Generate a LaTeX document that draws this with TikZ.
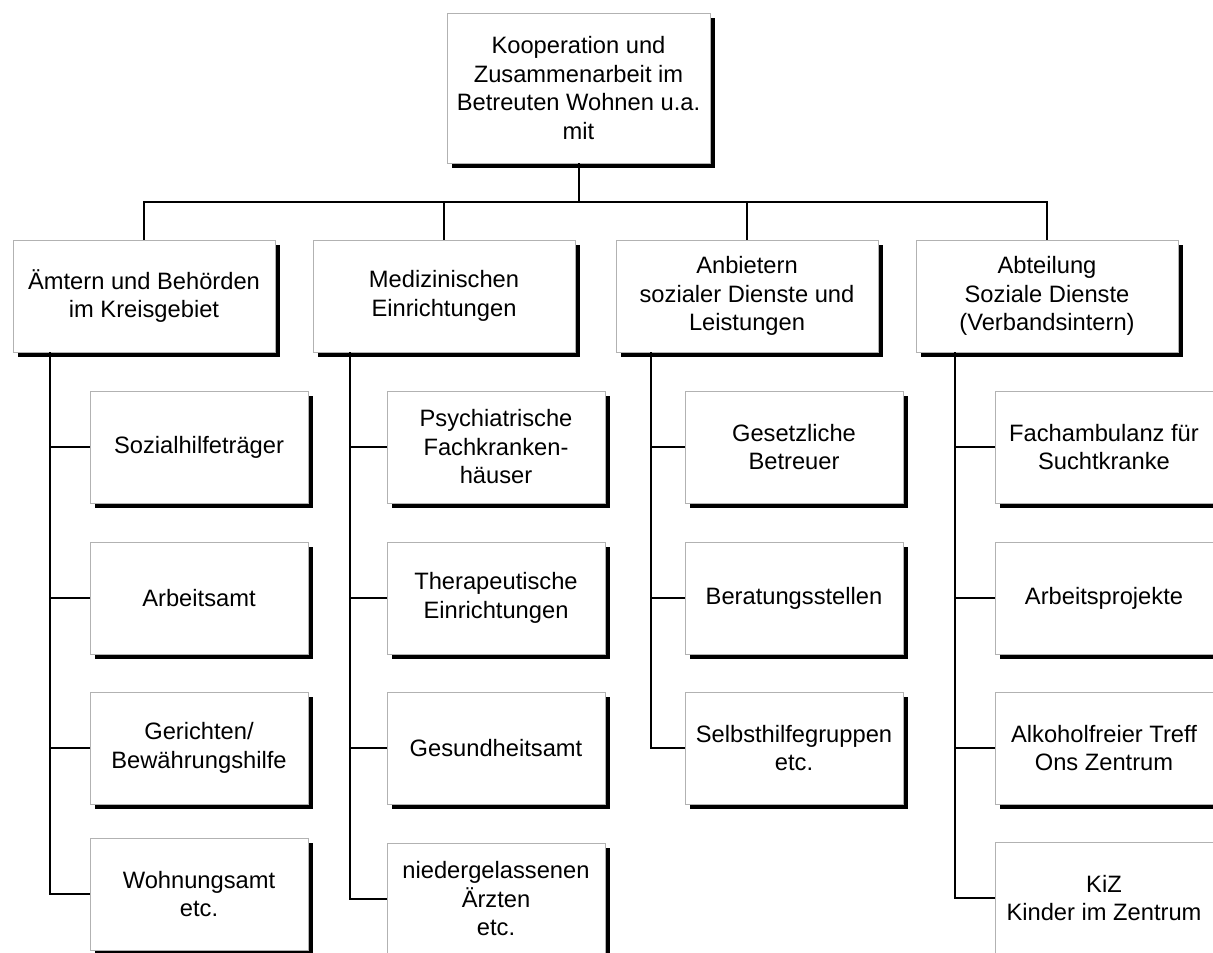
\documentclass[tikz,border=0pt]{standalone}
\usepackage{fontspec}
\setmainfont{Liberation Sans}
\usetikzlibrary{shadows}
\tikzset{
  box/.style={draw=gray!60, line width=0.8pt, fill=white, align=center, inner sep=0pt,
    font=\fontsize{23.7}{28.5}\selectfont,
    drop shadow={fill=black, opacity=1, shadow xshift=4.5pt, shadow yshift=-4.5pt}},
  rootbox/.style={box, minimum width=263pt, minimum height=150pt},
  grp/.style={box, minimum width=262pt, minimum height=112pt},
  leaf/.style={box, minimum width=218pt, minimum height=112pt},
  conn/.style={line width=2pt, black}
}
\begin{document}
\begin{tikzpicture}[x=1pt, y=-1pt]
\useasboundingbox (0,0) rectangle (1213,953);
\clip (0,0) rectangle (1213,953);
% root and groups
\node[rootbox] (root) at (578.5,88) {Kooperation und\\Zusammenarbeit im\\Betreuten Wohnen u.a.\\mit};
\node[grp] (A) at (144,296) {Ämtern und Behörden\\im Kreisgebiet};
\node[grp] (M) at (444,296) {Medizinischen\\Einrichtungen};
\node[grp] (N) at (747,296) {Anbietern\\sozialer Dienste und\\Leistungen};
\node[grp] (S) at (1047,296) {Abteilung\\Soziale Dienste\\(Verbandsintern)};
% children A
\node[leaf] (a1) at (199,447) {Sozialhilfeträger};
\node[leaf] (a2) at (199,598) {Arbeitsamt};
\node[leaf] (a3) at (199,748) {Gerichten/\\Bewährungshilfe};
\node[leaf] (a4) at (199,894) {Wohnungsamt\\etc.};
% children M
\node[leaf] (m1) at (496,447) {Psychiatrische\\Fachkranken-\\häuser};
\node[leaf] (m2) at (496,598) {Therapeutische\\Einrichtungen};
\node[leaf] (m3) at (496,748) {Gesundheitsamt};
\node[leaf] (m4) at (496,899) {niedergelassenen\\Ärzten\\etc.};
% children N
\node[leaf] (n1) at (794,447) {Gesetzliche\\Betreuer};
\node[leaf] (n2) at (794,598) {Beratungsstellen};
\node[leaf] (n3) at (794,748) {Selbsthilfegruppen\\etc.};
% children S
\node[leaf] (s1) at (1104,447) {Fachambulanz für\\Suchtkranke};
\node[leaf] (s2) at (1104,598) {Arbeitsprojekte};
\node[leaf] (s3) at (1104,748) {Alkoholfreier Treff\\Ons Zentrum};
\node[leaf] (s4) at (1104,898) {KiZ\\Kinder im Zentrum};
% top connectors
\draw[conn] (root.south) -- ++(0,39) coordinate (bus);
\draw[conn] (A.north) |- (bus) -| (S.north);
\draw[conn] (M.north) -- (M.north |- bus);
\draw[conn] (N.north) -- (N.north |- bus);
% group verticals
\coordinate (av) at ([xshift=37pt]A.south west);
\coordinate (mv) at ([xshift=37pt]M.south west);
\coordinate (nv) at ([xshift=35pt]N.south west);
\coordinate (sv) at ([xshift=39pt]S.south west);
\draw[conn] (av) |- (a4.west);
\draw[conn] (mv) |- (m4.west);
\draw[conn] (nv) |- (n3.west);
\draw[conn] (sv) |- (s4.west);
\foreach \c/\v in {a1/av,a2/av,a3/av,m1/mv,m2/mv,m3/mv,n1/nv,n2/nv,s1/sv,s2/sv,s3/sv}
  \draw[conn] (\c.west) -- (\c.west -| \v);
\end{tikzpicture}
\end{document}
